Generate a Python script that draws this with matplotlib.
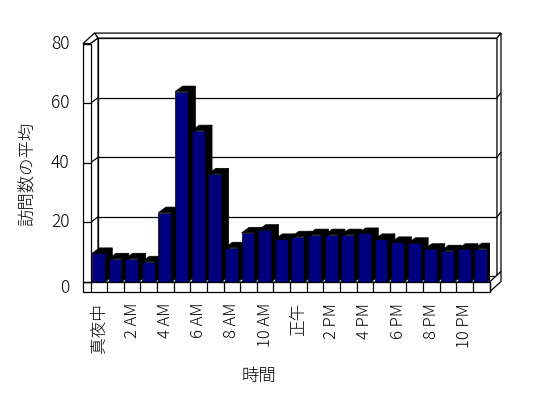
import matplotlib
matplotlib.use('Agg')
import matplotlib.pyplot as plt
from matplotlib.patches import Polygon, Rectangle

plt.rcParams['font.family'] = ['Noto Sans CJK JP', 'DejaVu Sans']
plt.rcParams['font.weight'] = 'light'

# data
hours = ['真夜中', '1 AM', '2 AM', '3 AM', '4 AM', '5 AM', '6 AM', '7 AM',
         '8 AM', '9 AM', '10 AM', '11 AM', '正午', '1 PM', '2 PM', '3 PM',
         '4 PM', '5 PM', '6 PM', '7 PM', '8 PM', '9 PM', '10 PM', '11 PM']
visits = [9.6, 7.8, 7.8, 6.8, 23.3, 63.9, 50.8, 36.3, 11.5, 16.5, 17.4, 14.3,
          15.2, 15.9, 15.9, 15.9, 16.3, 14.3, 13.3, 13.0, 11.0, 10.5, 11.0, 11.2]
yticks = [0, 20, 40, 60, 80]

W, H = 548, 398
fig = plt.figure(figsize=(W / 100, H / 100), dpi=100)
fig.patch.set_facecolor('white')
ax = fig.add_axes([90.5 / W, 116 / H, 399 / W, 238.4 / H])
n = len(hours)
ax.set_xlim(0, n)
ax.set_ylim(0, 80)
ax.axis('off')

pxx = 399 / n
pxy = 238.4 / 80
dx, dy = 7.5 / pxx, 5.5 / pxy     # depth of plot area
tx, ty = 11.5 / pxx, 10.5 / pxy   # depth incl. back wall
ww = 7.5 / pxx                    # left wall thickness
fh = 10 / pxy                     # floor thickness
top = 80
lw = 0.9


def poly(pts, fc='white', z=1):
    ax.add_patch(Polygon(pts, closed=True, facecolor=fc, edgecolor='black',
                         lw=lw, zorder=z, clip_on=False))


def line(xs, ys, z=1.5):
    ax.plot(xs, ys, color='black', lw=lw, zorder=z, clip_on=False,
            solid_capstyle='butt')


# back wall inner face, top and right side
poly([(dx, dy), (n + dx, dy), (n + dx, top + dy), (dx, top + dy)])
poly([(dx, top + dy), (n + dx, top + dy), (n + tx, top + ty), (-ww + tx, top + ty)])
poly([(-ww, top), (0, top), (dx, top + dy), (-ww + tx, top + ty)])
poly([(n + dx, dy), (n + dx, top + dy), (n + tx, top + ty), (n + tx, ty)])
# left wall inner face
poly([(0, 0), (0, top), (dx, top + dy), (dx, dy)])
# floor top and right side
poly([(0, 0), (n, 0), (n + dx, dy), (dx, dy)])
poly([(n, -fh), (n, 0), (n + tx, ty), (n + tx, -fh + ty)])

for v in yticks[1:-1]:
    line([dx, n + dx], [v + dy, v + dy])
    line([0, dx], [v, v + dy])
    line([n + dx, n + tx], [v + dy, v + ty])

# bars
navy = '#000080'
bars = ax.bar([i + 0.09 for i in range(n)], visits, width=0.77, align='edge',
              color=navy, edgecolor='black', lw=0.5)
for i, (b, v) in enumerate(zip(bars, visits)):
    x0 = b.get_x()
    x1 = x0 + b.get_width()
    z = 3 + i * 0.01
    ax.add_patch(Polygon([(x1, 0), (x1, v), (x1 + dx, v + dy), (x1 + dx, dy)],
                         facecolor='black', edgecolor='black', lw=0.5, zorder=z))
    ax.add_patch(Polygon([(x0, v), (x1, v), (x1 + dx, v + dy), (x0 + dx, v + dy)],
                         facecolor='black', edgecolor='black', lw=0.5, zorder=z))
    b.set_zorder(z + 0.005)

# floor front face
ax.add_patch(Rectangle((-ww, -fh), n + ww, fh, facecolor='white',
                       edgecolor='black', lw=lw, zorder=10, clip_on=False))
for i in range(n + 1):
    line([i, i], [-fh, 0], z=11)
# left wall front face
ax.add_patch(Rectangle((-ww, 0), ww, top, facecolor='white',
                       edgecolor='black', lw=lw, zorder=10, clip_on=False))
for v in yticks:
    line([-ww, 0], [v, v], z=11)

# tick labels
for v in yticks:
    ax.text(-21 / pxx, v if v > 0 else -2, str(v), ha='right', va='center',
            fontsize=12.5)
for i in range(0, n, 2):
    ax.text(i + 0.5, -21 / pxy, hours[i], rotation=90, ha='center', va='top',
            fontsize=12)

fig.text(27.5 / W, 1 - 173.5 / H, '訪問数の平均', rotation=90, ha='center',
         va='center', fontsize=12.5)
fig.text(259 / W, 1 - 376 / H, '時間', ha='center', va='center', fontsize=12.5)

fig.savefig('out.png', dpi=100)
